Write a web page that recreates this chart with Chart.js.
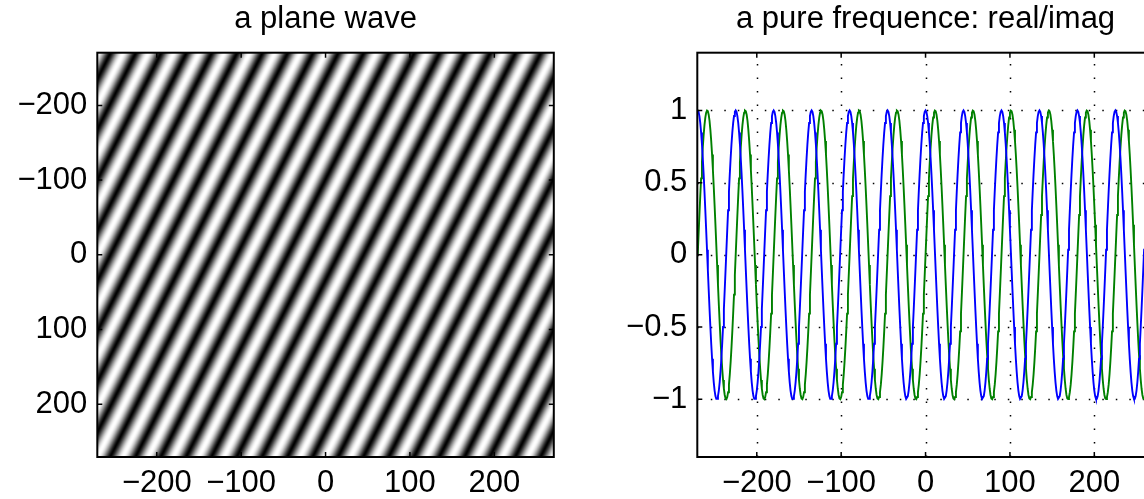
<!DOCTYPE html>
<html>
<head>
<meta charset="utf-8">
<script src="https://cdn.jsdelivr.net/npm/chart.js@4.4.1/dist/chart.umd.min.js"></script>
<style>
  html, body { margin: 0; padding: 0; background: #fff; overflow: hidden; width: 1144px; height: 499px; }
  #wrap { position: relative; width: 1144px; height: 499px; overflow: hidden; }
  .panel { position: absolute; top: 0; width: 600px; height: 499px; }
</style>
</head>
<body>
<div id="wrap">
  <div class="panel" style="left:0"><canvas id="planeWave" width="600" height="499"></canvas></div>
  <div class="panel" style="left:600px"><canvas id="pureFreq" width="600" height="499"></canvas></div>
</div>
<script>
// Sample positions shared by both panels (integer grid, inclusive)
const sampleRange = [-270, 270];
// Plane wave: number of cycles across the grid along x and along y
const planeWaveCycles = [18, 8];
// Pure frequency: number of cycles across the grid
const pureFreqCycles = [12];
// Axis ticks
const imageTicks = [-200, -100, 0, 100, 200];
const signalXTicks = [-200, -100, 0, 100, 200];
const signalYTicks = [-1, -0.5, 0, 0.5, 1];
const signalYRange = [-1.4, 1.4];
const titles = ['a plane wave', 'a pure frequence: real/imag'];

const span = sampleRange[1] - sampleRange[0];
const positions = [];
for (let t = sampleRange[0]; t <= sampleRange[1]; t++) positions.push(t);

// exp(i k x) sampled on the grid
const k1 = 2 * Math.PI * pureFreqCycles[0] / span;
const realPart = positions.map(t => ({ x: t, y: Math.cos(k1 * t) }));
const imagPart = positions.map(t => ({ x: t, y: Math.sin(k1 * t) }));

// real part of exp(i (kx x + ky y)) on the grid, row = y, col = x
const kx = 2 * Math.PI * planeWaveCycles[0] / span;
const ky = 2 * Math.PI * planeWaveCycles[1] / span;
const field = positions.map(yv => positions.map(xv => Math.cos(kx * xv + ky * yv)));

Chart.defaults.font.family = '"Liberation Sans", Arial, Helvetica, sans-serif';
Chart.defaults.color = '#000';

const fmt = v => (v < 0 ? '\u2212' + Math.abs(v) : String(v));
const TICK_FONT = { size: 31 };
const TITLE_FONT = { size: 31, weight: 'normal' };

// grey-scale image of the field, placed through the chart scales
const imagePlugin = {
  id: 'fieldImage',
  beforeDatasetsDraw(chart) {
    const { ctx, chartArea, scales: { x, y } } = chart;
    const n = positions.length;
    const off = document.createElement('canvas');
    off.width = n; off.height = n;
    const octx = off.getContext('2d');
    const img = octx.createImageData(n, n);
    for (let r = 0; r < n; r++) {
      for (let c = 0; c < n; c++) {
        const g = Math.round(Math.pow((field[r][c] + 1) / 2, 0.75) * 255);
        const i = (r * n + c) * 4;
        img.data[i] = img.data[i + 1] = img.data[i + 2] = g;
        img.data[i + 3] = 255;
      }
    }
    octx.putImageData(img, 0, 0);
    const x0 = x.getPixelForValue(positions[0] - 0.5), x1 = x.getPixelForValue(positions[n - 1] + 0.5);
    const y0 = y.getPixelForValue(positions[0] - 0.5), y1 = y.getPixelForValue(positions[n - 1] + 0.5);
    ctx.save();
    ctx.beginPath();
    ctx.rect(chartArea.left, chartArea.top, chartArea.width, chartArea.height);
    ctx.clip();
    ctx.imageSmoothingEnabled = true;
    ctx.drawImage(off, Math.min(x0, x1), Math.min(y0, y1), Math.abs(x1 - x0), Math.abs(y1 - y0));
    ctx.restore();
  }
};

// boxed axes with inward ticks, optional dotted grid
const framePlugin = {
  id: 'frame',
  beforeDatasetsDraw(chart, args, opts) {
    if (!opts.grid) return;
    const { ctx, chartArea: a, scales: { x, y } } = chart;
    ctx.save();
    ctx.strokeStyle = '#000';
    ctx.lineWidth = 1.5;
    ctx.setLineDash([1.5, 12]);
    x.ticks.forEach(t => {
      const px = Math.round(x.getPixelForValue(t.value)) + 0.5;
      ctx.beginPath(); ctx.moveTo(px, a.bottom); ctx.lineTo(px, a.top); ctx.stroke();
    });
    y.ticks.forEach(t => {
      const py = Math.round(y.getPixelForValue(t.value)) + 0.5;
      ctx.beginPath(); ctx.moveTo(a.left, py); ctx.lineTo(a.right, py); ctx.stroke();
    });
    ctx.restore();
  },
  afterDraw(chart) {
    const { ctx, chartArea: a, scales: { x, y } } = chart;
    const len = 5;
    ctx.save();
    ctx.strokeStyle = '#000';
    ctx.lineWidth = 1.5;
    ctx.setLineDash([]);
    x.ticks.forEach(t => {
      const px = x.getPixelForValue(t.value);
      ctx.beginPath();
      ctx.moveTo(px, a.bottom); ctx.lineTo(px, a.bottom - len);
      ctx.moveTo(px, a.top); ctx.lineTo(px, a.top + len);
      ctx.stroke();
    });
    y.ticks.forEach(t => {
      const py = y.getPixelForValue(t.value);
      ctx.beginPath();
      ctx.moveTo(a.left, py); ctx.lineTo(a.left + len, py);
      ctx.moveTo(a.right, py); ctx.lineTo(a.right - len, py);
      ctx.stroke();
    });
    ctx.lineWidth = 2;
    ctx.strokeRect(a.left, a.top, a.right - a.left, a.bottom - a.top);
    ctx.restore();
  }
};

function axis(min, max, ticks, padding, extra) {
  return Object.assign({
    type: 'linear',
    min, max,
    afterBuildTicks: s => { s.ticks = ticks.map(v => ({ value: v })); },
    ticks: { font: TICK_FONT, color: '#000', callback: fmt, maxRotation: 0, autoSkip: false, padding },
    grid: { display: false, drawTicks: false },
    border: { display: false }
  }, extra);
}

function baseOptions(title, xAxis, yAxis, grid) {
  return {
    responsive: false,
    animation: false,
    devicePixelRatio: 1,
    layout: { padding: { left: 0, right: 46.2, top: 0, bottom: 0 } },
    plugins: {
      legend: { display: false },
      tooltip: { enabled: false },
      title: {
        display: true, text: title, fullSize: false, color: '#000',
        font: TITLE_FONT, padding: { top: 1, bottom: 14.5 }
      },
      frame: { grid }
    },
    scales: { x: xAxis, y: yAxis }
  };
}

const xFit = s => { s.height = 42; };
const yFit = s => { s.width = 97.3; };

new Chart(document.getElementById('planeWave'), {
  type: 'scatter',
  data: { datasets: [] },
  options: baseOptions(
    titles[0],
    axis(sampleRange[0] - 0.5, sampleRange[1] + 0.5, imageTicks, 8, { afterFit: xFit }),
    axis(sampleRange[0] - 0.5, sampleRange[1] + 0.5, imageTicks, 10, { reverse: true, afterFit: yFit }),
    false
  ),
  plugins: [imagePlugin, framePlugin]
});

new Chart(document.getElementById('pureFreq'), {
  type: 'scatter',
  data: {
    datasets: [
      { label: 'real', data: realPart, showLine: true, borderColor: '#0000ff', borderWidth: 1.9, pointRadius: 0, tension: 0 },
      { label: 'imag', data: imagPart, showLine: true, borderColor: '#008000', borderWidth: 1.9, pointRadius: 0, tension: 0 }
    ]
  },
  options: baseOptions(
    titles[1],
    axis(sampleRange[0] - 0.5, sampleRange[1] + 0.5, signalXTicks, 8, { afterFit: xFit }),
    axis(signalYRange[0], signalYRange[1], signalYTicks, 10, { afterFit: yFit }),
    true
  ),
  plugins: [framePlugin]
});
</script>
</body>
</html>
